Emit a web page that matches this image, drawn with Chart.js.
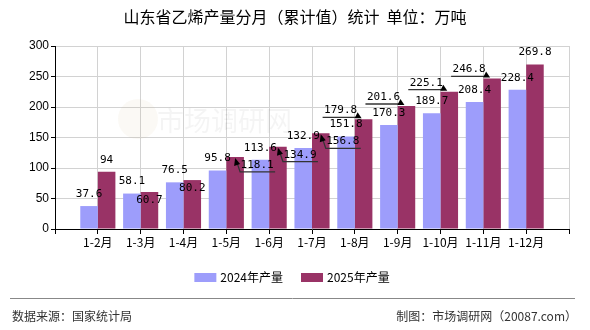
<html>
<head>
<meta charset="utf-8">
<script src="https://cdn.jsdelivr.net/npm/chart.js@4.4.0/dist/chart.umd.min.js"></script>
<style>
body { margin:0; background:#fff; }
canvas { display:block; }
</style>
</head>
<body>
<canvas id="myChart" width="590" height="330"></canvas>
<script>

var months = ['1-2月','1-3月','1-4月','1-5月','1-6月','1-7月','1-8月','1-9月','1-10月','1-11月','1-12月'];
var out2024 = [37.6, 58.1, 76.5, 95.8, 113.6, 132.9, 151.8, 170.3, 189.7, 208.4, 228.4];
var out2025 = [94, 60.7, 80.2, 118.1, 134.9, 156.8, 179.8, 201.6, 225.1, 246.8, 269.8];
var seriesNames = ['2024年产量', '2025年产量'];

// where the 2025 value labels sit (the source chart moved some to avoid overlaps)
var place2025 = ['top','in','in','right','right','right','left','left','left','left','top'];

var col2024 = '#9d9dfb', col2025 = '#993366';
var labelFont = '11px "DejaVu Sans Mono", "Liberation Mono", monospace';
var cjk = '"Noto Sans CJK SC", "Noto Sans", sans-serif';

// empty slots at both ends so categories sit on the grid lines
var xLabels = [''].concat(months, ['']);
function pad(a) { return [null].concat(a, [null]); }

var decor = {
  id: 'decor',
  beforeDatasetsDraw: function(chart) {
    var c = chart.ctx;
    c.save();
    c.fillStyle = 'rgba(0,0,0,0.045)';
    c.font = '27px ' + cjk;
    c.textAlign = 'left';
    c.textBaseline = 'middle';
    c.fillText('市场调研网', 157, 121);
    c.beginPath();
    c.arc(138, 119, 20, 0, Math.PI * 2);
    c.fillStyle = 'rgba(200,170,120,0.07)';
    c.fill();
    c.restore();
  },
  afterDatasetsDraw: function(chart) {
    var c = chart.ctx;
    c.save();
    c.font = labelFont;
    c.fillStyle = '#000';
    c.textAlign = 'center';
    c.textBaseline = 'middle';
    chart.getDatasetMeta(0).data.forEach(function(el, i) {
      var v = chart.data.datasets[0].data[i];
      if (v == null) return;
      c.fillText(String(v), el.x, el.y - 12);
    });
    chart.getDatasetMeta(1).data.forEach(function(el, i) {
      var v = chart.data.datasets[1].data[i];
      if (v == null) return;
      var p = place2025[i - 1], bx = el.x, by = el.y, t = String(v);
      c.strokeStyle = '#333';
      c.fillStyle = '#000';
      c.lineWidth = 1.3;
      if (p == 'top') {
        c.fillText(t, bx, by - 12);
      } else if (p == 'in') {
        c.fillText(t, bx, by + 8);
      } else if (p == 'right') {
        c.fillText(t, bx + 22, by + 8);
        c.beginPath();
        c.moveTo(bx + 1, by + 3);
        c.lineTo(bx + 5, by + 15);
        c.lineTo(bx + 40, by + 15);
        c.stroke();
        c.beginPath();
        c.moveTo(bx, by + 1);
        c.lineTo(bx - 1, by + 9);
        c.lineTo(bx + 5, by + 7);
        c.closePath();
        c.fill();
      } else {
        c.fillText(t, bx - 23, by - 9);
        c.beginPath();
        c.moveTo(bx - 41, by - 2);
        c.lineTo(bx - 6, by - 2);
        c.stroke();
        c.beginPath();
        c.moveTo(bx - 2, by - 1);
        c.lineTo(bx - 9, by - 1);
        c.lineTo(bx - 6, by - 7);
        c.closePath();
        c.fill();
      }
    });
    c.restore();
  },
  afterDraw: function(chart) {
    var c = chart.ctx;
    c.save();
    // title
    c.fillStyle = '#000';
    c.font = '16px ' + cjk;
    c.textAlign = 'center';
    c.textBaseline = 'middle';
    c.fillText('山东省乙烯产量分月（累计值）统计  单位：万吨', 295, 17);

    // legend
    c.font = '12px ' + cjk;
    c.textAlign = 'left';
    var w1 = c.measureText(seriesNames[0]).width, w2 = c.measureText(seriesNames[1]).width;
    var total = 22 + 4 + w1 + 18 + 22 + 4 + w2;
    var x = 292 - total / 2, ly = 277;
    c.fillStyle = col2024; c.fillRect(x, ly - 4, 22, 9);
    c.fillStyle = '#000'; c.fillText(seriesNames[0], x + 26, ly);
    x += 26 + w1 + 18;
    c.fillStyle = col2025; c.fillRect(x, ly - 4, 22, 9);
    c.fillStyle = '#000'; c.fillText(seriesNames[1], x + 26, ly);

    // footer
    c.strokeStyle = '#888';
    c.lineWidth = 1;
    c.beginPath();
    c.moveTo(10, 298.5);
    c.lineTo(575, 298.5);
    c.stroke();
    c.fillStyle = '#333';
    c.font = '12px ' + cjk;
    c.fillText('数据来源：国家统计局', 12, 316);
    c.textAlign = 'right';
    c.fillText('制图：市场调研网（20087.com）', 577, 316);
    c.restore();
  }
};

var ctx = document.getElementById('myChart').getContext('2d');
var myChart = new Chart(ctx, {
  type: 'bar',
  data: {
    labels: xLabels,
    datasets: [
      {label: seriesNames[0], data: pad(out2024), backgroundColor: col2024},
      {label: seriesNames[1], data: pad(out2025), backgroundColor: col2025}
    ]
  },
  options: {
    responsive: false,
    animation: false,
    devicePixelRatio: 1,
    layout: {padding: {top: 46, right: 21, bottom: 71, left: 0}},
    datasets: {bar: {categoryPercentage: 0.82, barPercentage: 1.0}},
    plugins: {legend: {display: false}, title: {display: false}, tooltip: {enabled: false}},
    scales: {
      x: {
        offset: false,
        grid: {offset: false, color: '#d2d2d2', tickColor: '#000', tickLength: 5},
        border: {color: '#000'},
        ticks: {color: '#000', font: {size: 12, family: cjk}, autoSkip: false, maxRotation: 0, padding: 1},
        afterFit: function(s) { s.height = 30; }
      },
      y: {
        min: 0, max: 300,
        grid: {color: '#d2d2d2', tickColor: '#000', tickLength: 4},
        border: {color: '#000'},
        ticks: {stepSize: 50, color: '#000', font: {size: 12, family: '"Liberation Sans", sans-serif'}, padding: 2},
        afterFit: function(s) { s.width = 55; }
      }
    }
  },
  plugins: [decor]
});
</script>
</body>
</html>
